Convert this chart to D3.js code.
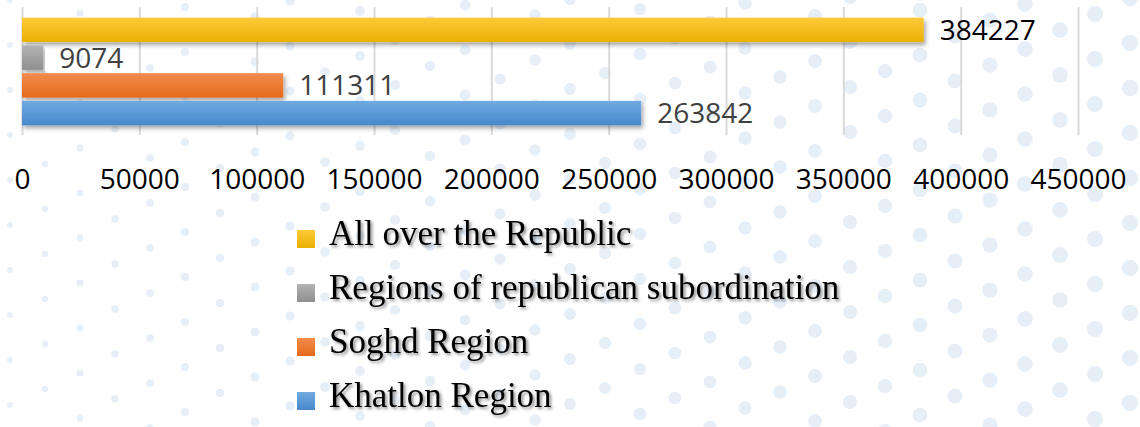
<!DOCTYPE html>
<html>
<head>
<meta charset="utf-8">
<script src="https://cdn.jsdelivr.net/npm/d3@7"></script>
<style>
  html, body { margin: 0; padding: 0; background: #fff; }
  svg { display: block; }
</style>
</head>
<body>
<div id="chart"></div>
<script>
/*** DATA ***/
const categories = ["All over the Republic", "Regions of republican subordination", "Soghd Region", "Khatlon Region"];
const values = [384227, 9074, 111311, 263842];
const tickValues = [0, 50000, 100000, 150000, 200000, 250000, 300000, 350000, 400000, 450000];

/*** STYLE ***/
const W = 1140, H = 427;
const barTop = ["#ffca3a", "#b3b3b3", "#f28c4c", "#70aae0"];
const barBot = ["#e9b000", "#8f8f8f", "#e5691c", "#4888cb"];
const labelCol = ["#000", "#404040", "#404040", "#404040"];

const svg = d3.select("#chart").append("svg")
  .attr("width", W).attr("height", H);

const defs = svg.append("defs");
categories.forEach((c, i) => {
  const g = defs.append("linearGradient").attr("id", "grad" + i)
    .attr("x1", 0).attr("y1", 0).attr("x2", 0).attr("y2", 1);
  g.append("stop").attr("offset", "0%").attr("stop-color", barTop[i]);
  g.append("stop").attr("offset", "100%").attr("stop-color", barBot[i]);
});
const sh = defs.append("filter").attr("id", "shadow")
  .attr("x", "-5%").attr("y", "-30%").attr("width", "110%").attr("height", "170%");
sh.append("feDropShadow").attr("dx", 2).attr("dy", 3).attr("stdDeviation", 2)
  .attr("flood-color", "#000").attr("flood-opacity", 0.35);
const tsh = defs.append("filter").attr("id", "tshadow")
  .attr("x", "-5%").attr("y", "-30%").attr("width", "110%").attr("height", "170%");
tsh.append("feDropShadow").attr("dx", 2).attr("dy", 2).attr("stdDeviation", 1.5)
  .attr("flood-color", "#000").attr("flood-opacity", 0.45);

/*** BACKGROUND DOTS (decoration) ***/
const dots = [];
for (let i = -5; i < 40; i++) {
  for (let j = -5; j < 30; j++) {
    const px = 10 + i * 35;
    const py = j * 45 - i * 17 + ((i * 7) % 3);
    if (px < -10 || px > W + 10 || py < -10 || py > H + 10) continue;
    dots.push([px, py]);
  }
}
svg.append("g").selectAll("circle").data(dots).enter().append("circle")
  .attr("cx", d => d[0]).attr("cy", d => d[1])
  .attr("r", d => 2.8 + 5.4 * Math.pow(d[0] / W, 0.8))
  .attr("fill", "#e6eef8");

/*** SCALES ***/
const x = d3.scaleLinear().domain([0, 450000]).range([22, 1078]);
const y = d3.scaleBand().domain(categories).range([16, 127]).paddingInner(0.12).paddingOuter(0.06);

// gridlines
svg.append("g")
  .attr("transform", "translate(0,135)")
  .call(d3.axisBottom(x).tickValues(tickValues).tickSize(-128).tickFormat(""))
  .call(g => g.select(".domain").remove())
  .call(g => g.selectAll("line").attr("stroke", "#d9d9d9").attr("stroke-width", 2));

// tick labels
svg.append("g")
  .attr("transform", "translate(0,169)")
  .call(d3.axisBottom(x).tickValues(tickValues).tickSize(0).tickPadding(0).tickFormat(d3.format("d")))
  .call(g => g.select(".domain").remove())
  .call(g => g.selectAll("text")
    .attr("font-family", "'Open Sans', sans-serif")
    .attr("font-size", 28).attr("fill", "#000"));

/*** BARS ***/
svg.append("g").selectAll("rect").data(values).enter().append("rect")
  .attr("x", x(0))
  .attr("y", (d, i) => y(categories[i]))
  .attr("width", d => x(d) - x(0))
  .attr("height", y.bandwidth())
  .attr("fill", (d, i) => "url(#grad" + i + ")")
  .attr("filter", "url(#shadow)");

svg.append("g").selectAll("text").data(values).enter().append("text")
  .attr("x", d => x(d) + 16)
  .attr("y", (d, i) => y(categories[i]) + y.bandwidth() / 2)
  .attr("dy", "0.36em")
  .attr("font-family", "'Open Sans', sans-serif")
  .attr("font-size", 28)
  .attr("fill", (d, i) => labelCol[i])
  .text(d => d);

/*** LEGEND ***/
const legY = d3.scalePoint().domain(categories).range([245, 407]);
const leg = svg.append("g").selectAll("g").data(categories).enter().append("g")
  .attr("transform", d => "translate(0," + legY(d) + ")");
leg.append("rect")
  .attr("x", 297).attr("y", -15).attr("width", 18).attr("height", 18)
  .attr("fill", (d, i) => "url(#grad" + i + ")");
leg.append("text")
  .attr("x", 329).attr("y", 0)
  .attr("font-family", "'Liberation Serif', serif")
  .attr("font-size", 35)
  .attr("fill", "#000")
  .attr("filter", "url(#tshadow)")
  .text(d => d);
</script>
</body>
</html>
